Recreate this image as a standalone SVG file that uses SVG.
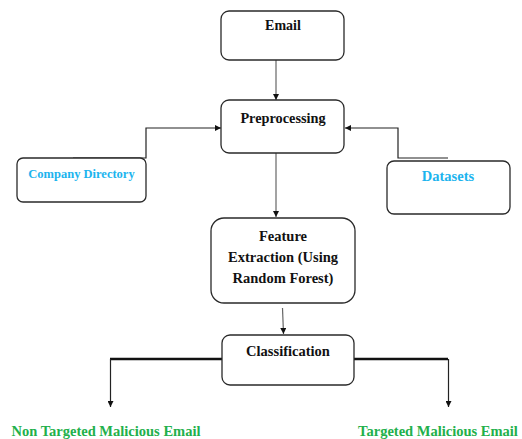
<svg xmlns="http://www.w3.org/2000/svg" width="522" height="439" viewBox="0 0 522 439">
<style>
.box{fill:#fff;stroke:#2a2a2a;stroke-width:1.3}
.t{font-family:"Liberation Serif","Times New Roman",serif;font-weight:bold;fill:#111;text-anchor:middle}
.blue{fill:#1cb4ee}
.green{fill:#22b04b}
.ln{fill:none;stroke:#222;stroke-width:1.2}
.gl{fill:none;stroke:#666;stroke-width:1.2}
.thick{fill:none;stroke:#111;stroke-width:2.6}
</style>
<defs>
<marker id="ah" viewBox="0 0 10 10" refX="10" refY="5" markerWidth="6" markerHeight="6" markerUnits="userSpaceOnUse" orient="auto">
<path d="M0,0 L10,5 L0,10 z" fill="#111"/>
</marker>
</defs>
<rect width="522" height="439" fill="#fff"/>
<g id="connectors">
<line class="gl" x1="276" y1="60" x2="276" y2="100" marker-end="url(#ah)"/>
<polyline class="ln" points="73,158 146,158 146,128 221,128" marker-end="url(#ah)"/>
<polyline class="ln" points="448,158 398,158 398,128 345,128" marker-end="url(#ah)"/>
<line class="gl" x1="276" y1="153" x2="276" y2="217" marker-end="url(#ah)"/>
<line class="gl" x1="282.5" y1="308" x2="283.5" y2="334" marker-end="url(#ah)"/>
<line class="thick" x1="110" y1="359" x2="222" y2="359"/>
<line class="thick" x1="354" y1="359" x2="448" y2="359"/>
<line class="ln" x1="110.5" y1="359" x2="110.5" y2="407" marker-end="url(#ah)"/>
<line class="ln" x1="448.5" y1="359" x2="448.5" y2="407" marker-end="url(#ah)"/>
</g>
<g id="email">
<rect class="box" x="221" y="11" width="123" height="49" rx="8"/>
<text class="t" x="283" y="30" font-size="14">Email</text>
</g>
<g id="preprocessing">
<rect class="box" x="221" y="100" width="123" height="53" rx="8"/>
<text class="t" x="283" y="123" font-size="14.3">Preprocessing</text>
</g>
<g id="company-directory">
<rect class="box" x="17" y="158" width="129" height="44" rx="6"/>
<text class="t blue" x="81.5" y="178" font-size="12.5">Company Directory</text>
</g>
<g id="datasets">
<rect class="box" x="387" y="161" width="123" height="53" rx="7"/>
<text class="t blue" x="448" y="181" font-size="14.5">Datasets</text>
</g>
<g id="feature-extraction">
<rect class="box" x="211" y="218" width="144" height="85" rx="13"/>
<text class="t" x="283" y="241" font-size="14.5">Feature</text>
<text class="t" x="283" y="262" font-size="14.5">Extraction (Using</text>
<text class="t" x="283" y="283" font-size="14.5">Random Forest)</text>
</g>
<g id="classification">
<rect class="box" x="222" y="335" width="132" height="50" rx="8"/>
<text class="t" x="288" y="356" font-size="14.5">Classification</text>
</g>
<g id="non-targeted">
<text class="t green" x="106" y="436" font-size="14.5">Non Targeted Malicious Email</text>
</g>
<g id="targeted">
<text class="t green" x="438" y="436" font-size="14.5">Targeted Malicious Email</text>
</g>
</svg>
